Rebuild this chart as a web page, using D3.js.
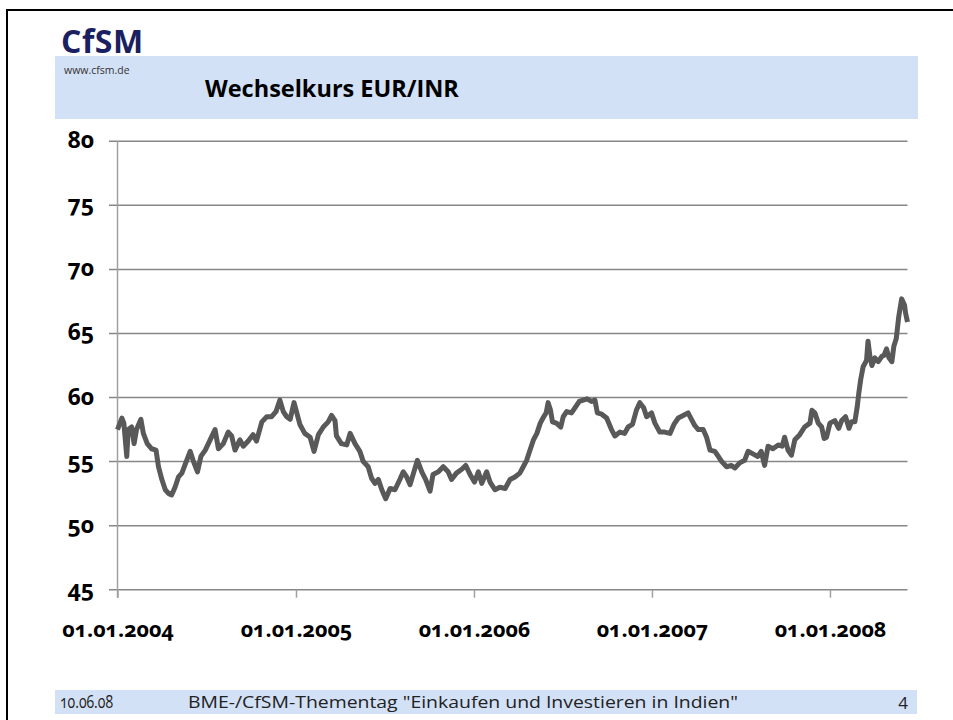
<!DOCTYPE html>
<html>
<head>
<meta charset="utf-8">
<script src="https://cdn.jsdelivr.net/npm/d3@7"></script>
<style>
  body { margin: 0; background: #fff; }
  svg { display: block; }
  .onum { font-feature-settings: "onum" 1; font-variant-numeric: oldstyle-nums; }
</style>
</head>
<body>
<div id="chart"></div>
<script>
// EUR/INR exchange rate (date, rate)
const rates2004 = [
  ["2004-01-01",57.5],["2004-01-10",58.4],["2004-01-14",58.0],["2004-01-20",55.4],["2004-01-23",57.5],["2004-01-30",57.7],
  ["2004-02-04",56.4],["2004-02-09",57.5],["2004-02-18",58.3],["2004-02-23",57.2],["2004-03-02",56.4],["2004-03-11",56.0],
  ["2004-03-20",55.9],["2004-03-25",54.6],["2004-04-01",53.6],["2004-04-08",52.8],["2004-04-15",52.5],["2004-04-21",52.4],
  ["2004-04-28",53.0],["2004-05-05",53.8],["2004-05-12",54.1],["2004-05-18",54.7],["2004-05-29",55.8],["2004-06-04",55.1],
  ["2004-06-13",54.2],["2004-06-20",55.4],["2004-06-29",55.9],["2004-07-09",56.7],["2004-07-19",57.5],["2004-07-26",56.0],
  ["2004-08-05",56.4],["2004-08-15",57.3],["2004-08-22",57.0],["2004-08-29",55.9],["2004-09-08",56.7],["2004-09-15",56.2],
  ["2004-09-25",56.6],["2004-10-05",57.1],["2004-10-12",56.6],["2004-10-23",58.1],["2004-11-02",58.5],["2004-11-12",58.5],
  ["2004-11-21",58.9],["2004-11-29",59.8],["2004-12-06",58.9],["2004-12-13",58.5],["2004-12-20",58.3],["2004-12-28",59.6]
];
const rates2005 = [
  ["2005-01-02",58.9],["2005-01-09",57.9],["2005-01-19",57.2],["2005-01-30",56.9],["2005-02-07",55.8],["2005-02-16",57.1],
  ["2005-02-26",57.7],["2005-03-08",58.1],["2005-03-15",58.6],["2005-03-22",58.2],["2005-03-25",57.0],["2005-04-04",56.4],
  ["2005-04-15",56.3],["2005-04-22",57.2],["2005-05-02",56.4],["2005-05-12",55.8],["2005-05-19",55.0],["2005-05-29",54.6],
  ["2005-06-05",53.7],["2005-06-12",53.3],["2005-06-19",53.6],["2005-06-26",52.8],["2005-07-04",52.1],["2005-07-13",52.9],
  ["2005-07-23",52.8],["2005-08-02",53.6],["2005-08-09",54.2],["2005-08-16",53.8],["2005-08-23",53.2],["2005-08-30",54.1],
  ["2005-09-07",55.1],["2005-09-16",54.2],["2005-09-24",53.6],["2005-10-03",52.7],["2005-10-09",54.0],["2005-10-20",54.2],
  ["2005-10-30",54.6],["2005-11-09",54.2],["2005-11-16",53.6],["2005-11-26",54.1],["2005-12-07",54.4],["2005-12-15",54.7],
  ["2005-12-24",54.0]
];
const rates2006 = [
  ["2006-01-02",53.4],["2006-01-10",54.2],["2006-01-17",53.3],["2006-01-27",54.2],["2006-02-03",53.4],["2006-02-13",52.8],
  ["2006-02-23",53.0],["2006-03-06",52.9],["2006-03-16",53.6],["2006-03-26",53.8],["2006-04-05",54.1],["2006-04-12",54.6],
  ["2006-04-19",55.1],["2006-04-26",55.9],["2006-05-03",56.7],["2006-05-10",57.2],["2006-05-17",58.0],["2006-05-24",58.5],
  ["2006-05-29",58.8],["2006-06-02",59.6],["2006-06-07",59.0],["2006-06-11",58.1],["2006-06-19",58.0],["2006-06-28",57.7],
  ["2006-07-03",58.5],["2006-07-10",58.9],["2006-07-20",58.8],["2006-07-27",59.2],["2006-08-05",59.7],["2006-08-13",59.8],
  ["2006-08-21",59.9],["2006-08-30",59.7],["2006-09-06",59.8],["2006-09-11",58.8],["2006-09-20",58.7],["2006-09-30",58.4],
  ["2006-10-10",57.5],["2006-10-17",57.0],["2006-10-27",57.3],["2006-11-06",57.2],["2006-11-13",57.7],["2006-11-22",57.9],
  ["2006-11-30",59.0],["2006-12-07",59.6],["2006-12-15",59.2],["2006-12-21",58.5],["2006-12-31",58.8]
];
const rates2007 = [
  ["2007-01-07",58.0],["2007-01-17",57.3],["2007-01-27",57.3],["2007-02-07",57.2],["2007-02-15",57.9],["2007-02-24",58.4],
  ["2007-03-06",58.6],["2007-03-16",58.8],["2007-03-23",58.3],["2007-03-30",57.8],["2007-04-06",57.5],["2007-04-16",57.5],
  ["2007-04-23",56.9],["2007-04-30",55.9],["2007-05-10",55.8],["2007-05-17",55.4],["2007-05-24",55.0],["2007-06-03",54.6],
  ["2007-06-13",54.7],["2007-06-20",54.5],["2007-06-30",54.9],["2007-07-10",55.1],["2007-07-17",55.8],["2007-07-27",55.6],
  ["2007-08-06",55.4],["2007-08-13",55.8],["2007-08-20",54.7],["2007-08-27",56.2],["2007-09-06",56.0],["2007-09-17",56.3],
  ["2007-09-25",56.2],["2007-09-30",56.9],["2007-10-07",55.9],["2007-10-14",55.5],["2007-10-21",56.7],["2007-10-31",57.1],
  ["2007-11-10",57.7],["2007-11-21",58.0],["2007-11-25",59.0],["2007-12-01",58.8],["2007-12-08",58.0],["2007-12-15",57.7],
  ["2007-12-20",56.8],["2007-12-25",56.9]
];
const rates2008 = [
  ["2008-01-01",58.0],["2008-01-11",58.2],["2008-01-19",57.6],["2008-01-25",58.2],["2008-02-02",58.5],["2008-02-09",57.6],
  ["2008-02-14",58.1],["2008-02-21",58.1],["2008-02-26",59.3],["2008-02-29",60.3],["2008-03-04",61.4],["2008-03-09",62.4],
  ["2008-03-16",62.9],["2008-03-19",64.4],["2008-03-23",63.2],["2008-03-27",62.5],["2008-04-02",63.1],["2008-04-09",62.8],
  ["2008-04-16",63.2],["2008-04-21",63.3],["2008-04-26",63.8],["2008-05-01",63.1],["2008-05-07",62.8],["2008-05-11",64.0],
  ["2008-05-16",64.6],["2008-05-21",66.3],["2008-05-27",67.7],["2008-06-02",67.2],["2008-06-04",66.6],["2008-06-08",65.9]
];

const yTicks = [45, 50, 55, 60, 65, 70, 75, 80];
const xTickDates = ["2004-01-01", "2005-01-01", "2006-01-01", "2007-01-01", "2008-01-01"];

const title = "Wechselkurs EUR/INR";
const footerDate = "10.06.08";
const footerText = "BME-/CfSM-Thementag \"Einkaufen und Investieren in Indien\"";
const pageNo = "4";

const width = 953, height = 720;
const font = "'Open Sans', sans-serif";
const parse = d3.timeParse("%Y-%m-%d");

let data = [].concat(rates2004, rates2005, rates2006, rates2007, rates2008)
  .map(d => ({date: parse(d[0]), value: d[1]}));

let svg = d3.select("#chart").append("svg")
  .attr("width", width)
  .attr("height", height);

// slide frame
svg.append("path")
  .attr("d", "M7," + height + "V10H" + width)
  .attr("fill", "none")
  .attr("stroke", "#000")
  .attr("stroke-width", 2);

// header band + logo
svg.append("rect").attr("x", 55).attr("y", 56).attr("width", 863).attr("height", 63).attr("fill", "#d3e1f6");
svg.append("text").attr("x", 61).attr("y", 53)
  .attr("font-family", font).attr("font-weight", 700).attr("font-size", 32)
  .attr("letter-spacing", 0.5).attr("fill", "#1b2160").text("CfSM");
svg.append("text").attr("x", 64).attr("y", 74)
  .attr("font-family", font).attr("font-size", 10.5)
  .attr("fill", "#333").text("www.cfsm.de");
svg.append("text").attr("x", 205).attr("y", 97)
  .attr("font-family", font).attr("font-weight", 700).attr("font-size", 23.5)
  .attr("fill", "#000").text(title);

// scales
let x = d3.scaleTime()
  .domain([parse("2004-01-01"), d3.max(data, d => d.date)])
  .range([117.5, 907.5]);

let y = d3.scaleLinear()
  .domain([45, 80])
  .range([589.7, 141.3]);

// gridlines
svg.append("g")
  .selectAll("line")
  .data(yTicks)
  .enter()
  .append("line")
  .attr("x1", 109).attr("x2", x.range()[1])
  .attr("y1", d => y(d)).attr("y2", d => y(d))
  .attr("stroke", "#878787").attr("stroke-width", 1.5);

// y axis line
svg.append("line")
  .attr("x1", 117.5).attr("x2", 117.5)
  .attr("y1", y(80)).attr("y2", y(45) + 8)
  .attr("stroke", "#a0a0a0").attr("stroke-width", 1.5);

// y labels
svg.append("g")
  .selectAll("text")
  .data(yTicks)
  .enter()
  .append("text")
  .attr("class", "onum")
  .attr("x", 94)
  .attr("y", d => y(d) + 7)
  .attr("text-anchor", "end")
  .attr("font-family", font)
  .attr("font-weight", 700)
  .attr("font-size", 23)
  .text(d => d);

// x axis
let xAxis = svg.append("g")
  .attr("transform", "translate(0," + y(45) + ")")
  .call(d3.axisBottom(x)
    .tickValues(xTickDates.map(parse))
    .tickSize(8)
    .tickPadding(24)
    .tickFormat(d3.timeFormat("%d.%m.%Y")));
xAxis.select(".domain").remove();
xAxis.selectAll(".tick line").attr("stroke", "#a0a0a0").attr("stroke-width", 1.5);
xAxis.selectAll(".tick text")
  .attr("class", "onum")
  .attr("fill", "#000")
  .attr("font-family", font)
  .attr("font-weight", 700)
  .attr("font-size", 21.5);

// the rate line
let line = d3.line()
  .x(d => x(d.date))
  .y(d => y(d.value));

svg.append("path")
  .datum(data)
  .attr("d", line)
  .attr("fill", "none")
  .attr("stroke", "#595959")
  .attr("stroke-width", 5)
  .attr("stroke-linejoin", "round");

// footer band
svg.append("rect").attr("x", 55).attr("y", 690).attr("width", 862).attr("height", 24).attr("fill", "#d3e1f6");
let footer = svg.append("g")
  .attr("font-family", font)
  .attr("font-size", 17)
  .attr("fill", "#222");
footer.append("text").attr("x", 60).attr("y", 708).attr("class", "onum")
  .attr("font-size", 19)
  .attr("textLength", 53).attr("lengthAdjust", "spacingAndGlyphs").text(footerDate);
footer.append("text").attr("x", 188).attr("y", 708)
  .attr("textLength", 550).attr("lengthAdjust", "spacingAndGlyphs").text(footerText);
footer.append("text").attr("x", 908).attr("y", 709).attr("text-anchor", "end").text(pageNo);
</script>
</body>
</html>
